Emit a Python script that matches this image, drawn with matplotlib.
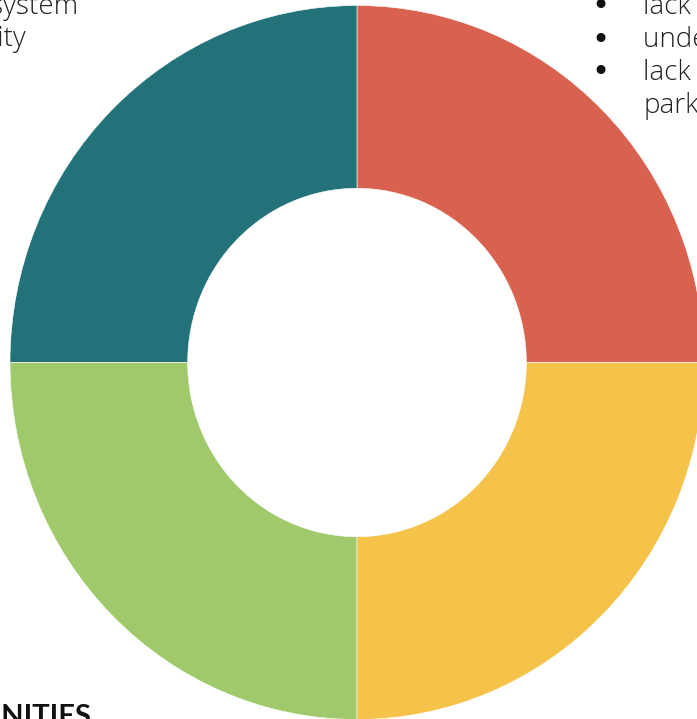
import matplotlib
matplotlib.use("Agg")
import matplotlib.pyplot as plt

# Data
categories = ["Weaknesses", "Strengths", "Opportunities", "Threats"]
values = [25, 25, 25, 25]
colors = ["#D96150", "#23727A", "#9FC96B", "#F5C34A"]

left_lines = ["public transit system", "strong community"]
right_lines = ["lack of bike lanes", "underused spaces", "lack of green", "parks"]
bottom_title = "OPPORTUNITIES"

W, H = 697, 719
fig = plt.figure(figsize=(W / 100, H / 100), dpi=100)
ax = fig.add_axes([0, 0, 1, 1])

ax.pie(values, colors=colors, startangle=0, counterclock=True,
       radius=1.0, wedgeprops=dict(width=0.512, edgecolor="white", linewidth=0.4))
ax.set_aspect("auto")
# pixel geometry: center (357, 362.5 from top), rx=347, ry=357
cx, cy_top, rx, ry = 357, 362.5, 347, 357
ax.set_xlim(-cx / rx, (W - cx) / rx)
ax.set_ylim(-(H - cy_top) / ry, cy_top / ry)
ax.axis("off")

font = "Open Sans"
fs = 20

def px(x, y):
    return x / W, 1 - y / H

# left text (right-aligned, mostly off-canvas)
x, y = px(78, 14)
fig.text(x, y, left_lines[0], ha="right", va="baseline", fontsize=fs, family=font,
         fontweight="light", color="#222222")
x, y = px(26, 46)
fig.text(x, y, left_lines[1], ha="right", va="baseline", fontsize=fs, family=font,
         fontweight="light", color="#222222")

# right bullets
bullet_baselines = [14, 47, 80]
for bl, line in zip(bullet_baselines, right_lines[:3]):
    bx, by = px(600, bl - 7)
    fig.text(bx, by, "\u2022", ha="center", va="center", fontsize=22, family="DejaVu Sans", color="#111111")
    tx, ty = px(643, bl)
    fig.text(tx, ty, line, ha="left", va="baseline", fontsize=fs, family=font,
             fontweight="light", color="#222222")
tx, ty = px(643, 113)
fig.text(tx, ty, right_lines[3], ha="left", va="baseline", fontsize=fs, family=font,
         fontweight="light", color="#222222")

# bottom title
x, y = px(92, 725)
fig.text(x, y, bottom_title, ha="right", va="baseline", fontsize=21, family="Lato",
         fontweight="bold", color="#111111")

fig.savefig("out.png", dpi=100)
